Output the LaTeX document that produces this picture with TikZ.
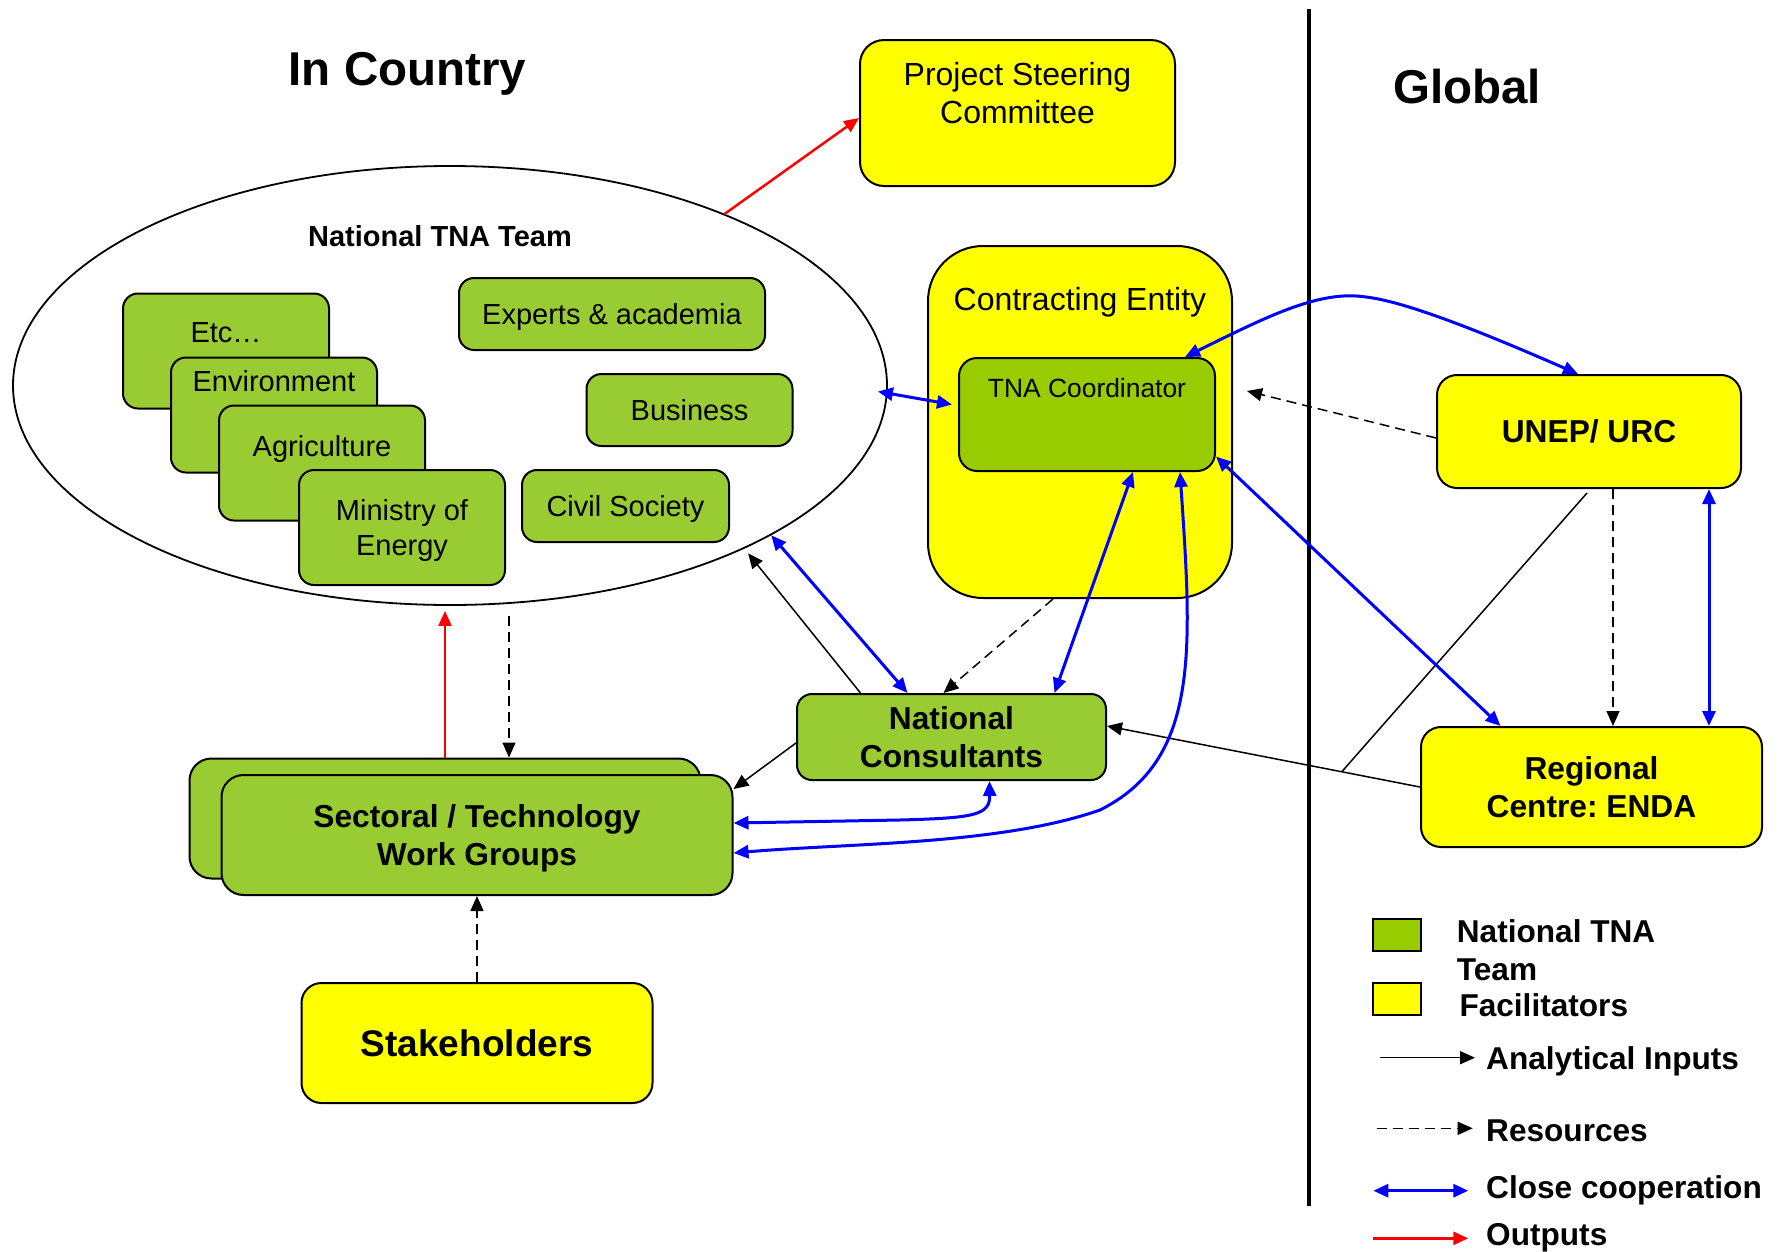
\documentclass[tikz,border=0pt]{standalone}
\usepackage{fontspec}
\setmainfont{Liberation Sans}
\usetikzlibrary{shapes.geometric, positioning, arrows.meta}
\definecolor{tnagreen}{RGB}{153,204,51}
\definecolor{coordgreen}{RGB}{153,204,0}
\definecolor{facyellow}{RGB}{255,255,0}

\begin{document}
\begin{tikzpicture}[x=1pt, y=-1pt,
        inp/.style={-{Triangle[length=15pt,width=13pt]}, line width=1.5pt},
        res/.style={inp, dash pattern=on 10pt off 6pt},
        coop/.style={{Triangle[length=15pt,width=13pt]}-{Triangle[length=15pt,width=13pt]}, blue, line width=3pt},
        outp/.style={-{Triangle[length=15pt,width=13pt]}, red, line width=2.5pt},
        member/.style={draw, line width=2pt, fill=tnagreen, rounded corners=15pt, inner sep=0pt,
            align=center, text depth=0pt, font=\fontsize{29}{35.5}\selectfont},
        facil/.style={draw, line width=2pt, fill=facyellow, rounded corners=22pt, inner sep=0pt, align=center},
        boldtxt/.style={font=\fontsize{31.7}{37.6}\selectfont\bfseries},
        plaintxt/.style={inner sep=0pt, align=center, font=\fontsize{29}{35.5}\selectfont},
        legtxt/.style={inner sep=0pt, align=left, anchor=base west, font=\fontsize{31.6}{38}\selectfont\bfseries},
        heading/.style={inner sep=0pt, anchor=base, font=\fontsize{47.5}{57}\selectfont\bfseries}]

    \useasboundingbox (0,0) rectangle (1786,1251);

    % titles and divider
    \node[heading] (incountry) at (407.5,85) {In Country};
    \node[heading] (global) at (1467,103.6) {Global};
    \draw[line width=4pt] (1309,9) -- (1309,1206);

    % national TNA team
    \node[draw, ellipse, line width=1.8pt, minimum width=874pt, minimum height=439pt, inner sep=0pt] (team) at (450,385.5) {};
    \node[plaintxt, font=\fontsize{29}{35}\selectfont\bfseries] (teamlbl) at (440,236.5) {National TNA Team};

    \node[member, minimum width=206pt, minimum height=115pt] (etc) at (226,351) {};
    \node[plaintxt, below=30pt of etc.north] (etctxt) {Etc…};
    \node[member, minimum width=206pt, minimum height=115pt] (env) at (274,415) {};
    \node[plaintxt, below=13.4pt of env.north] (envtxt) {Environment};
    \node[member, minimum width=206pt, minimum height=115pt] (agri) at (322,463) {};
    \node[plaintxt, below=30.7pt of agri.north] (agritxt) {Agriculture};
    \node[member, minimum width=206pt, minimum height=115pt] (moe) at (402,527.5) {Ministry of\\Energy};

    \node[member, minimum width=306pt, minimum height=72pt] (exp) at (612,314) {Experts \& academia};
    \node[member, minimum width=206pt, minimum height=72pt] (bus) at (689.5,410) {Business};
    \node[member, minimum width=207pt, minimum height=72pt] (civ) at (625.5,506) {Civil Society};

    % facilitators and coordinator
    \node[facil, rounded corners=24pt, minimum width=315pt, minimum height=146pt] (psc) at (1017.5,113) {};
    \node[plaintxt, font=\fontsize{32}{38.3}\selectfont, below=23.2pt of psc.north] (psctxt) {Project Steering\\Committee};

    \node[facil, rounded corners=55pt, minimum width=304pt, minimum height=352pt] (ce) at (1080,422) {};
    \node[plaintxt, font=\fontsize{32}{38}\selectfont, below=42.5pt of ce.north] (cetxt) {Contracting Entity};

    \node[member, fill=coordgreen, rounded corners=18pt, minimum width=256pt, minimum height=113pt] (coord) at (1087,414.5) {};
    \node[plaintxt, font=\fontsize{26.4}{32}\selectfont, below=21.4pt of coord.north] (coordtxt) {TNA Coordinator};

    \node[facil, boldtxt, rounded corners=20pt, minimum width=304pt, minimum height=113pt] (unep) at (1589,431.5) {UNEP/ URC};
    \node[facil, boldtxt, rounded corners=20pt, minimum width=341pt, minimum height=120pt] (enda) at (1591.5,787) {Regional\\Centre:\ ENDA};

    \node[member, boldtxt, minimum width=309pt, minimum height=86pt] (nc) at (951.5,737) {National\\Consultants};

    \node[member, rounded corners=22pt, minimum width=511pt, minimum height=120pt] (swgb) at (445,818.5) {};
    \node[member, boldtxt, rounded corners=22pt, minimum width=511pt, minimum height=120pt] (swg) at (477,835) {Sectoral / Technology\\Work Groups};

    \node[facil, rounded corners=20pt, minimum width=351pt, minimum height=120pt,
        font=\fontsize{37}{44}\selectfont\bfseries] (stake) at (477,1043) {Stakeholders};

    % outputs
    \draw[outp] (team.32.8) -- ([shift={(0,5)}]psc.west);
    \draw[outp, shorten >=5pt] (swgb.north) -- (swgb.north |- team.south);

    % resources
    \coordinate (rdown) at ([shift={(59,10)}]team.south);
    \draw[res] (rdown) -- (rdown |- swgb.north);
    \draw[res] (stake.north) -- (swg.south);
    \draw[res] ([shift={(-27,0)}]ce.south) -- ([shift={(-8,0)}]nc.north);
    \draw[res] ([shift={(0,6.5)}]unep.west) -- ([shift={(14,-31)}]ce.east);
    \draw[res] ([shift={(24,0)}]unep.south) -- ([shift={(21.5,0)}]enda.north);

    % analytical inputs
    \draw[inp, shorten >=6pt] ([shift={(-91,0)}]nc.north) -- (team.-29);
    \draw[inp] ([shift={(0,6)}]nc.west) -- ([shift={(0,15)}]swg.north east);
    \draw[inp] (enda.west) -- coordinate[pos=.25] (merge) ([shift={(0,-11)}]nc.east);
    \draw[line width=1.5pt] ([shift={(-2,4)}]unep.south) -- (merge);

    % close cooperation
    \draw[coop] ([shift={(-10,6)}]team.east) -- ([shift={(-6,-10)}]coord.west);
    \draw[coop] (team.-25.5) -- ([shift={(-44,0)}]nc.north);
    \draw[coop] ([shift={(46,0)}]coord.south) -- ([shift={(103,0)}]nc.north);
    \draw[coop] ([shift={(93,0)}]coord.south) .. controls (1192,650) and (1200,760) .. (1100,810)
        .. controls (1000,845) and (850,843) .. ([shift={(0,18)}]swg.east);
    \draw[coop] ([shift={(38,0)}]nc.south) .. controls (990,815) and (975,818) .. (900,820)
        -- ([shift={(0,-12)}]swg.east);
    \draw[coop] ([shift={(0,42)}]coord.east) -- ([shift={(-91,0)}]enda.north);
    \draw[coop] ([shift={(98,0)}]coord.north) .. controls (1270,315) and (1320,290) .. (1366,297)
        .. controls (1410,302) and (1500,340) .. ([shift={(-11,0)}]unep.north);
    \draw[coop] ([shift={(120,0)}]unep.south) -- ([shift={(117.5,0)}]enda.north);

    % legend
    \node[draw, line width=2pt, fill=coordgreen, minimum width=48pt, minimum height=32pt] (lggreen) at (1397,934.5) {};
    \node[draw, line width=2pt, fill=facyellow, minimum width=48pt, minimum height=32pt] (lgyellow) at (1397,998.5) {};
    \node[legtxt] (lgteam) at (1456.7,980.7) {National TNA\\Team};
    \node[legtxt] (lgfac) at (1459.3,1016.7) {Facilitators};
    \node[legtxt] (lginp) at (1486,1069) {Analytical Inputs};
    \node[legtxt] (lgres) at (1486,1141.7) {Resources};
    \node[legtxt] (lgcoop) at (1486,1198.3) {Close cooperation};
    \node[legtxt] (lgout) at (1486,1245.7) {Outputs};
    \draw[inp] ([shift={(-106,-11.3)}]lginp.base west) -- ([shift={(-11,-11.3)}]lginp.base west);
    \draw[res] ([shift={(-109.3,-13.4)}]lgres.base west) -- ([shift={(-13.3,-13.4)}]lgres.base west);
    \draw[coop] ([shift={(-112.7,-7.6)}]lgcoop.base west) -- ([shift={(-17.7,-7.6)}]lgcoop.base west);
    \draw[outp] ([shift={(-112.7,-7.4)}]lgout.base west) -- ([shift={(-17.7,-7.4)}]lgout.base west);

\end{tikzpicture}
\end{document}
